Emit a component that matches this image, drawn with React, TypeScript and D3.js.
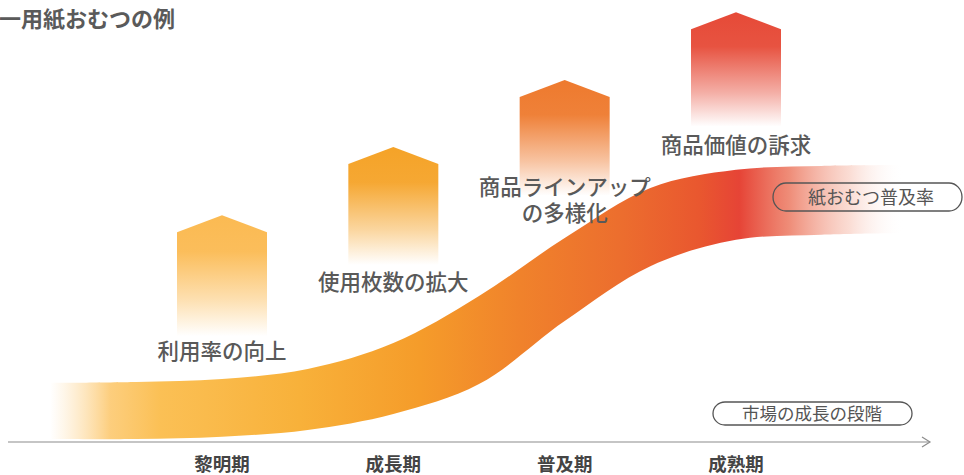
import React from "react";
import * as d3 from "d3";

// ---- data ----
const title = "一用紙おむつの例";
const stages = ["黎明期", "成長期", "普及期", "成熟期"];
const stageIndex = [1, 2, 3, 4];

// penetration band (stage position -> upper / lower edge, in %)
const bandX = [0, 0.5, 1, 1.5, 2, 2.5, 3, 3.5, 4, 4.5, 5];
const bandTop = [13.7, 13.9, 14.6, 16.9, 22.9, 33.8, 47.2, 58.8, 63.0, 63.9, 64.1];
const bandBottom = [0.7, 0.7, 1.2, 2.8, 6.5, 13.4, 28.0, 40.7, 46.8, 48.0, 48.4];

// value "houses" for each stage
const houseTop = [52.5, 68.3, 83.8, 99.5];
const houseBottom = [24.5, 41, 57, 73];
const houseColors = ["#fbba52", "#f5a328", "#ee7a2e", "#e64a37"];
const houseLabels = [["利用率の向上"], ["使用枚数の拡大"], ["商品ラインアップ", "の多様化"], ["商品価値の訴求"]];
const labelValue = [19.2, 35.2, 57.2, 66.9];

const legendBand = "紙おむつ普及率";
const legendAxis = "市場の成長の段階";

const W = 964;
const H = 475;

export default function App() {
  const x = d3.scaleLinear().domain([1, 4]).range([222, 736]);
  const y = d3.scaleLinear().domain([0, 100]).range([442, 10]);

  const bandData = bandX.map((s, i) => ({ s, t: bandTop[i], b: bandBottom[i] }));
  const area = d3
    .area<{ s: number; t: number; b: number }>()
    .x((d) => x(d.s))
    .y0((d) => y(d.b))
    .y1((d) => y(d.t))
    .curve(d3.curveCatmullRom.alpha(0.5));

  const halfW = 45;
  const roofDrop = 17;
  const font = "'Noto Sans CJK JP', 'Noto Sans', sans-serif";
  const textFill = "#595959";

  const bandStops: [number, string, number][] = [
    [0, "#fdd79a", 0],
    [0.07, "#fcc566", 0.85],
    [0.128, "#fbc055", 1],
    [0.29, "#f8b13a", 1],
    [0.43, "#f59c2a", 1],
    [0.547, "#f0822b", 1],
    [0.663, "#ec6e2e", 1],
    [0.756, "#e9572f", 1],
    [0.802, "#e64436", 1],
    [0.86, "#ec7860", 0.85],
    [0.93, "#f6b9a8", 0.5],
    [0.994, "#ffffff", 0],
  ];

  return (
    <svg
      width={W}
      height={H}
      viewBox={`0 0 ${W} ${H}`}
      style={{ position: "absolute", left: 0, top: 0, background: "#fff" }}
    >
      <defs>
        <linearGradient id="bandGrad" gradientUnits="userSpaceOnUse" x1={x(0) - 0.5} x2={x(5) + 2} y1={0} y2={0}>
          {bandStops.map(([o, c, op], i) => (
            <stop key={i} offset={o} stopColor={c} stopOpacity={op} />
          ))}
        </linearGradient>
        {houseColors.map((c, i) => (
          <linearGradient key={i} id={`house${i}`} x1={0} x2={0} y1={0} y2={1}>
            <stop offset={0} stopColor={c} stopOpacity={1} />
            <stop offset={0.3} stopColor={c} stopOpacity={0.95} />
            <stop offset={0.7} stopColor={c} stopOpacity={0.45} />
            <stop offset={1} stopColor={c} stopOpacity={0} />
          </linearGradient>
        ))}
      </defs>

      {/* title */}
      <text x={-1} y={27} fontFamily={font} fontWeight={700} fontSize={22} fill="#5a5a5a">
        {title}
      </text>

      {/* houses */}
      {stageIndex.map((s, i) => {
        const cx = x(s);
        const top = y(houseTop[i]);
        const bot = y(houseBottom[i]);
        const p = d3.path();
        p.moveTo(cx - halfW, bot);
        p.lineTo(cx - halfW, top + roofDrop);
        p.lineTo(cx, top);
        p.lineTo(cx + halfW, top + roofDrop);
        p.lineTo(cx + halfW, bot);
        p.closePath();
        return <path key={i} d={p.toString()} fill={`url(#house${i})`} />;
      })}

      {/* band */}
      <path d={area(bandData) || ""} fill="url(#bandGrad)" />

      {/* house labels */}
      {stageIndex.map((s, i) =>
        houseLabels[i].map((line, j) => (
          <text
            key={`${i}-${j}`}
            x={x(s)}
            y={y(labelValue[i]) + j * 26}
            textAnchor="middle"
            fontFamily={font}
            fontWeight={500}
            fontSize={21.5}
            fill={textFill}
          >
            {line}
          </text>
        ))
      )}

      {/* legend pill: band */}
      <rect x={773} y={183} width={189} height={28} rx={13} ry={14} fill="none" stroke="#555" strokeWidth={1.3} />
      <text x={871} y={203.5} textAnchor="middle" fontFamily={font} fontWeight={400} fontSize={18} fill="#555">
        {legendBand}
      </text>

      {/* legend pill: axis */}
      <rect x={713} y={402} width={199} height={23} rx={12} ry={11.5} fill="none" stroke="#555" strokeWidth={1.3} />
      <text x={812} y={420} textAnchor="middle" fontFamily={font} fontWeight={400} fontSize={17.5} fill="#555">
        {legendAxis}
      </text>

      {/* axis */}
      <line x1={8} x2={930} y1={442} y2={442} stroke="#8c8c8c" strokeWidth={1.2} />
      <polyline points="922,437 930,442 922,447" fill="none" stroke="#8c8c8c" strokeWidth={1.2} />

      {stages.map((st, i) => (
        <text
          key={st}
          x={x(stageIndex[i])}
          y={471}
          textAnchor="middle"
          fontFamily={font}
          fontWeight={700}
          fontSize={18.5}
          fill="#444"
        >
          {st}
        </text>
      ))}
    </svg>
  );
}
